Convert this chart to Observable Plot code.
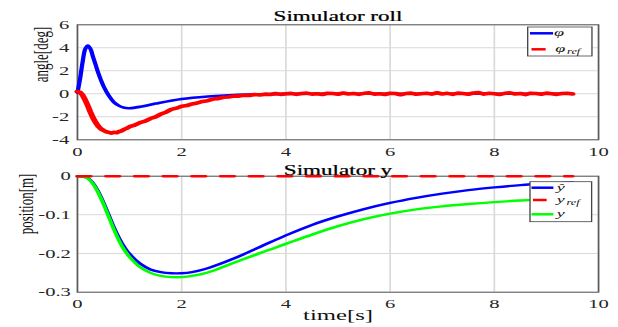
<!DOCTYPE html>
<html>
<head>
<meta charset="utf-8">
<script src="https://cdn.jsdelivr.net/npm/d3@7"></script>
<script src="https://cdn.jsdelivr.net/npm/@observablehq/plot@0.6"></script>
<style>
  html, body { margin: 0; padding: 0; background: white; overflow: hidden; }
  #wrap { position: relative; width: 375px; height: 327px; transform: scaleX(1.648); transform-origin: 0 0; }
  #wrap svg, #wrap text, #wrap tspan { font-family: "Liberation Serif", "Times New Roman", serif !important; }
  #legend { position: absolute; left: 0; top: 0; pointer-events: none; }
</style>
</head>
<body>
<div id="wrap">
  <div id="top"></div>
  <div id="bot"></div>
</div>
<script>
// ---------- data ----------
const xTicks = [0, 2, 4, 6, 8, 10];
const topYTicks = [-4, -2, 0, 2, 4, 6];
const botYTicks = [-0.3, -0.2, -0.1, 0];

const topTitle = "Simulator roll";
const botTitle = "Simulator y";
const topYLabel = "angle[deg]";
const botYLabel = "position[m]";
const xLabel = "time[s]";

// phi (blue, smooth)
const tPhi = [0, 0.05, 0.1, 0.15, 0.2, 0.25, 0.3, 0.35, 0.4, 0.45, 0.5, 0.6, 0.7, 0.8, 0.9, 1.0, 1.2, 1.5, 2.0, 2.5, 3.0, 3.5, 4.0, 5.0, 6.0, 7.0, 8.0, 9.0, 9.5];
const phi  = [0.1, 1.3, 2.8, 3.9, 4.2, 3.9, 3.2, 2.5, 1.8, 1.2, 0.67, -0.15, -0.73, -1.05, -1.22, -1.25, -1.13, -0.85, -0.45, -0.23, -0.1, -0.04, -0.01, 0, 0, 0, 0, 0, 0];

// phi_ref (red, noisy measurement)
const tPhiRef = [0, 0.05, 0.1, 0.15, 0.2, 0.25, 0.3, 0.35, 0.4, 0.45, 0.5, 0.55, 0.6, 0.65, 0.7, 0.75, 0.8, 0.85, 0.9, 0.95, 1.0,
  1.1, 1.2, 1.3, 1.4, 1.5, 1.6, 1.7, 1.8, 1.9, 2.0, 2.1, 2.2, 2.3, 2.4, 2.5, 2.6, 2.7, 2.8, 2.9, 3.0,
  3.1, 3.2, 3.3, 3.4, 3.5, 3.6, 3.7, 3.8, 3.9, 4.0,
  4.1, 4.2, 4.3, 4.4, 4.5, 4.6, 4.7, 4.8, 4.9, 5.0,
  5.1, 5.2, 5.3, 5.4, 5.5, 5.6, 5.7, 5.8, 5.9, 6.0,
  6.1, 6.2, 6.3, 6.4, 6.5, 6.6, 6.7, 6.8, 6.9, 7.0,
  7.1, 7.2, 7.3, 7.4, 7.5, 7.6, 7.7, 7.8, 7.9, 8.0,
  8.1, 8.2, 8.3, 8.4, 8.5, 8.6, 8.7, 8.8, 8.9, 9.0,
  9.1, 9.2, 9.3, 9.4, 9.5];
const phiRef = [0.2, 0.12, -0.12, -0.55, -1.05, -1.6, -2.1, -2.5, -2.82, -3.05, -3.18, -3.3, -3.36, -3.42, -3.35, -3.38, -3.28, -3.22, -3.08, -3.0, -2.86,
  -2.72, -2.5, -2.38, -2.15, -2.0, -1.76, -1.6, -1.36, -1.25, -1.08, -1.02, -0.88, -0.8, -0.66, -0.6, -0.46, -0.42, -0.3, -0.28, -0.2,
  -0.2, -0.12, -0.14, -0.06, -0.1, -0.03, -0.06, 0.02, -0.05, 0.01,
  0.04, -0.05, 0.03, 0.06, -0.03, 0.01, -0.06, 0.05, 0.02, -0.04,
  0.07, -0.02, 0.03, -0.05, 0.04, 0.08, -0.03, 0.0, -0.06, 0.05,
  0.03, -0.08, 0.02, 0.06, -0.04, 0.01, 0.05, -0.03, 0.09, -0.02,
  0.04, -0.05, 0.06, 0.02, -0.04, 0.07, 0.1, -0.03, 0.05, 0.01,
  -0.06, 0.04, 0.08, -0.02, 0.03, -0.07, 0.05, 0.02, -0.04, 0.06,
  0.01, -0.05, 0.03, 0.04, -0.02];

// y_hat (blue), y (green), y_ref (red dashed)
const tY   = [0, 0.1, 0.2, 0.3, 0.4, 0.5, 0.6, 0.7, 0.8, 0.9, 1.0, 1.2, 1.4, 1.6, 1.8, 2.0, 2.2, 2.5, 3.0, 3.5, 4.0, 4.5, 5.0, 5.5, 6.0, 6.5, 7.0, 7.5, 8.0, 8.5, 9.0, 9.5];
const yHat = [0, -0.001, -0.005, -0.018, -0.040, -0.068, -0.100, -0.132, -0.160, -0.183, -0.201, -0.226, -0.241, -0.248, -0.251, -0.251, -0.248, -0.238, -0.213, -0.183, -0.153, -0.126, -0.104, -0.085, -0.069, -0.056, -0.045, -0.036, -0.029, -0.023, -0.019, -0.016];
const yMeas = [0, -0.001, -0.006, -0.020, -0.043, -0.072, -0.105, -0.138, -0.167, -0.191, -0.209, -0.235, -0.250, -0.258, -0.261, -0.261, -0.258, -0.249, -0.224, -0.199, -0.175, -0.151, -0.129, -0.111, -0.097, -0.086, -0.078, -0.072, -0.067, -0.063, -0.060, -0.059];
const tYRef = [0, 9.5];
const yRef  = [0, 0];

// ---------- build ----------
const fmt = d => String(d);
const rows = (t, v) => t.map((ti, i) => ({t: ti, v: v[i]}));
const W = 375;
const font = "Liberation Serif";
const gridStyle = {stroke: "#d9d9d9", strokeOpacity: 1, strokeWidth: 1};

const topPlot = Plot.plot({
  width: W, height: 160,
  marginLeft: 46.5, marginRight: 12.3, marginTop: 24.3, marginBottom: 20.7,
  style: {fontFamily: font, fontSize: "12.5px", color: "#262626", background: "white", overflow: "visible"},
  x: {domain: [0, 10]},
  y: {domain: [-4, 6]},
  marks: [
    Plot.gridX({ticks: xTicks, ...gridStyle}),
    Plot.gridY({ticks: topYTicks, ...gridStyle}),
    Plot.frame({stroke: "#5a5a5a", strokeWidth: 1}),
    Plot.line(rows(tPhi, phi), {x: "t", y: "v", stroke: "#0000ff", strokeWidth: 2.6, curve: "catmull-rom"}),
    Plot.line(rows(tPhiRef, phiRef), {x: "t", y: "v", stroke: "#ff0000", strokeWidth: 3.6, strokeLinejoin: "round"}),
    Plot.axisX({ticks: xTicks, tickSize: 0, tickPadding: 7, label: null, tickFormat: fmt}),
    Plot.axisY({ticks: topYTicks, tickSize: 0, tickPadding: 5, label: null, tickFormat: fmt}),
    Plot.text([topTitle], {text: d => d, frameAnchor: "top", lineAnchor: "bottom", dy: -3.6, fontSize: 14, fill: "#000", stroke: "#000", strokeWidth: 0.25}),
    Plot.text([topYLabel], {text: d => d, frameAnchor: "left", rotate: -90, dx: -22.2, fontSize: 13, fill: "#111"})
  ]
});

const botPlot = Plot.plot({
  width: W, height: 167,
  marginLeft: 46.5, marginRight: 12.3, marginTop: 15.7, marginBottom: 35.3,
  style: {fontFamily: font, fontSize: "12.5px", color: "#262626", background: "white", overflow: "visible"},
  x: {domain: [0, 10]},
  y: {domain: [-0.3, 0]},
  marks: [
    Plot.gridX({ticks: xTicks, ...gridStyle}),
    Plot.gridY({ticks: botYTicks, ...gridStyle}),
    Plot.frame({stroke: "#5a5a5a", strokeWidth: 1}),
    Plot.line(rows(tY, yHat), {x: "t", y: "v", stroke: "#0000ff", strokeWidth: 2.4, curve: "catmull-rom"}),
    Plot.line(rows(tY, yMeas), {x: "t", y: "v", stroke: "#00ff00", strokeWidth: 2.4, curve: "catmull-rom"}),
    Plot.line(rows(tYRef, yRef), {x: "t", y: "v", stroke: "#ff0000", strokeWidth: 2.6, strokeDasharray: "8,9.4"}),
    Plot.axisX({ticks: xTicks, tickSize: 0, tickPadding: 7, label: null, tickFormat: fmt}),
    Plot.axisY({ticks: botYTicks, tickSize: 0, tickPadding: 4, label: null, tickFormat: fmt}),
    Plot.text([botTitle], {text: d => d, frameAnchor: "top", lineAnchor: "bottom", dy: -1.7, fontSize: 14, fill: "#000", stroke: "#000", strokeWidth: 0.25}),
    Plot.text([botYLabel], {text: d => d, frameAnchor: "left", rotate: -90, dx: -31.3, fontSize: 13, fill: "#111"}),
    Plot.text([xLabel], {text: d => d, frameAnchor: "bottom", lineAnchor: "bottom", dy: 28, fontSize: 15, fill: "#111"})
  ]
});

document.getElementById("top").appendChild(topPlot);
document.getElementById("bot").appendChild(botPlot);

// ---------- legends (overlay, same coordinate space) ----------
const legends = [
  {box: [320.2, 27, 39, 29], items: [
    {y: 33.3, color: "#0000ff", x1: 321.6, x2: 335.6, main: "φ", sub: "", tx: 336.2},
    {y: 49.3, color: "#ff0000", x1: 322.5, x2: 331.1, main: "φ", sub: "ref", tx: 337.0}
  ]},
  {box: [321.6, 181.7, 37.4, 40], items: [
    {y: 187.7, color: "#0000ff", x1: 322.5, x2: 335.8, main: "ŷ", sub: "", tx: 337.8},
    {y: 200.0, color: "#ff0000", x1: 323.4, x2: 331.7, main: "y", sub: "ref", tx: 337.8},
    {y: 214.3, color: "#00ff00", x1: 322.5, x2: 335.8, main: "y", sub: "", tx: 337.8}
  ]}
];
const svg = d3.select("#wrap").append("svg").attr("id", "legend").attr("width", W).attr("height", 327);
for (const L of legends) {
  const [bx, by, bw, bh] = L.box;
  svg.append("rect").attr("x", bx).attr("y", by).attr("width", bw).attr("height", bh)
     .attr("fill", "white").attr("stroke", "#444").attr("stroke-width", 0.8);
  for (const it of L.items) {
    svg.append("line").attr("x1", it.x1).attr("x2", it.x2).attr("y1", it.y).attr("y2", it.y)
       .attr("stroke", it.color).attr("stroke-width", 2.5);
    const t = svg.append("text").attr("x", it.tx).attr("y", it.y + 3)
       .attr("font-family", font).attr("font-style", "italic").attr("font-size", 11).attr("fill", "#111");
    t.append("tspan").text(it.main);
    if (it.sub) t.append("tspan").attr("font-size", 7.5).attr("dy", 2).attr("dx", 1).text(it.sub);
  }
}
</script>
</body>
</html>
